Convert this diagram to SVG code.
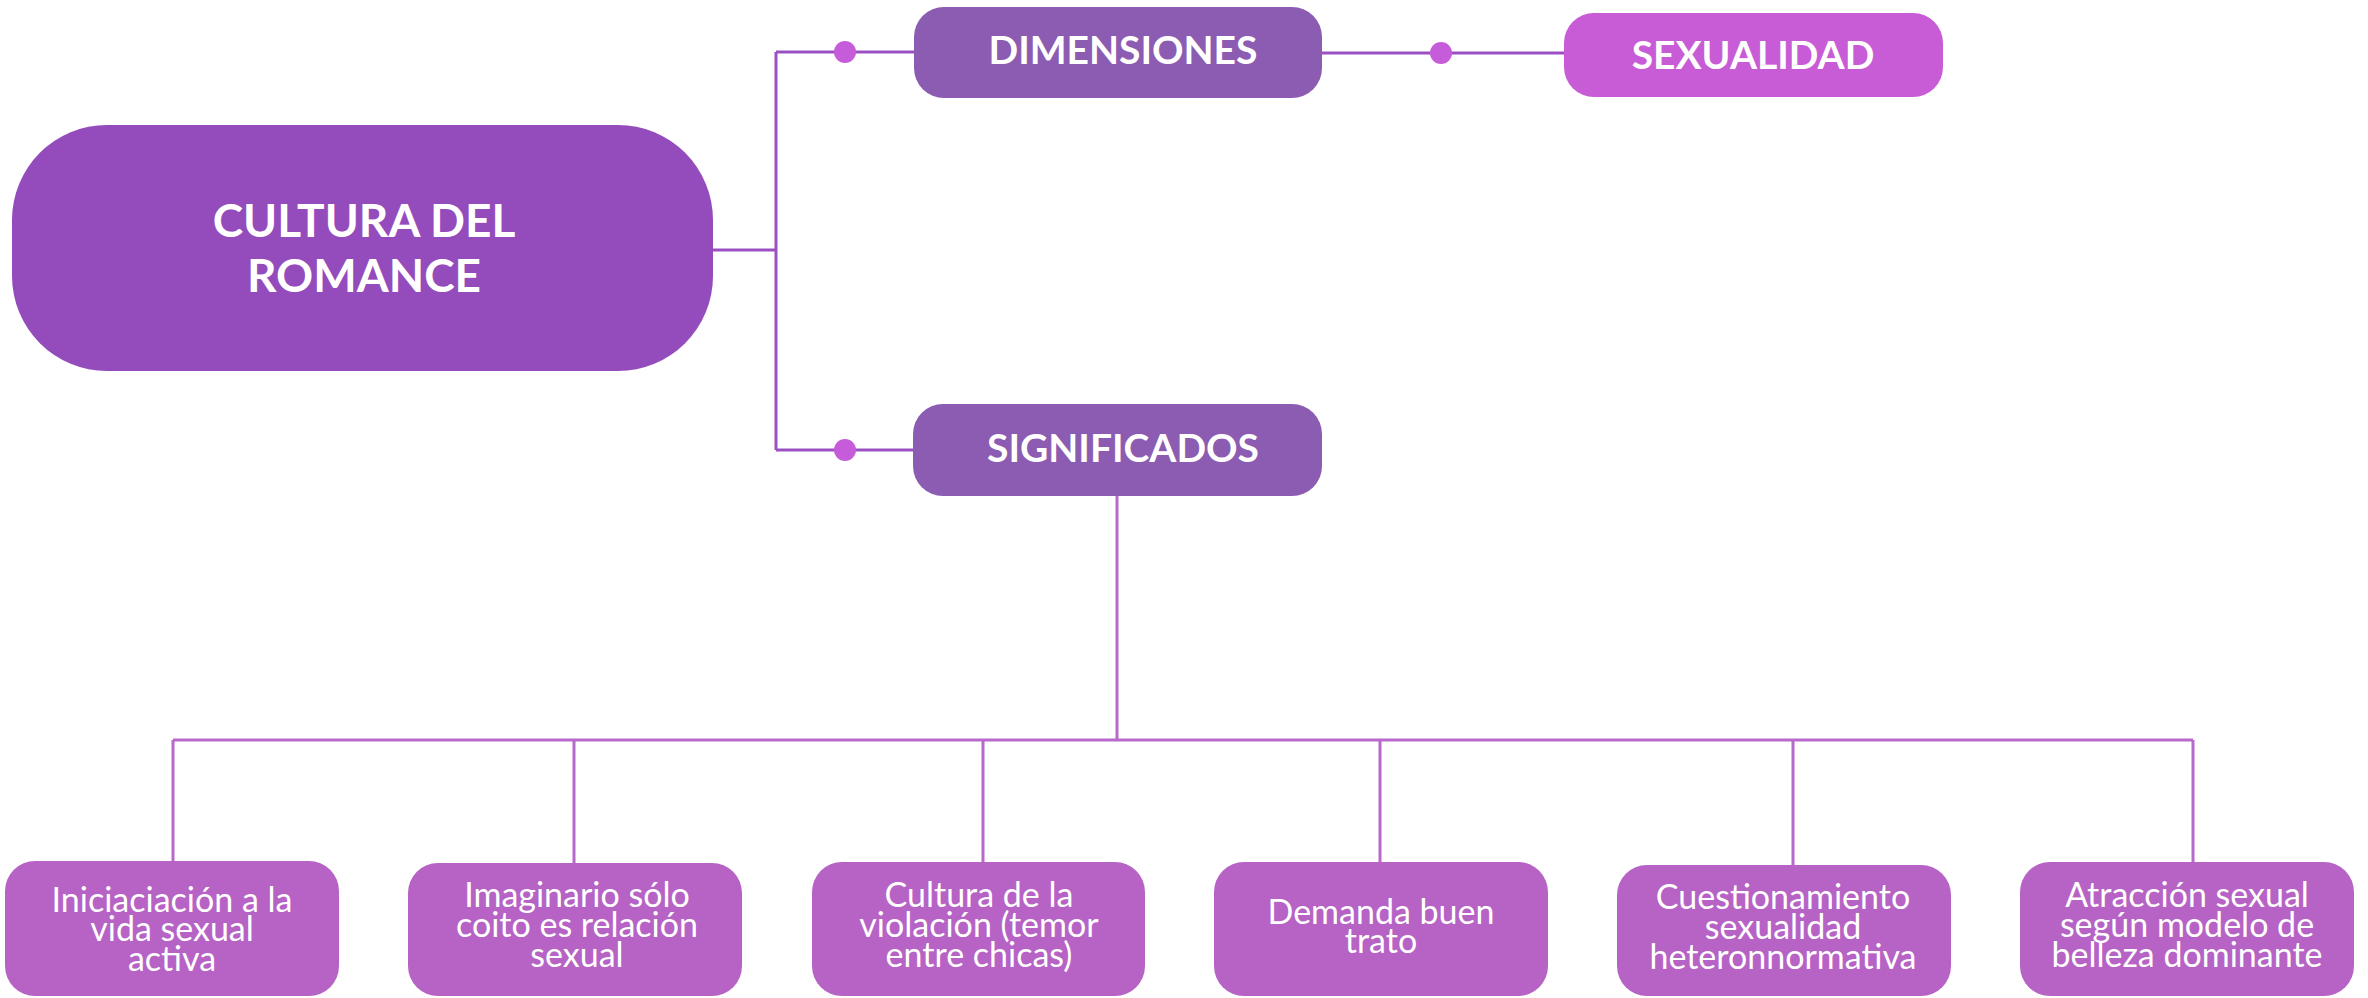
<svg xmlns="http://www.w3.org/2000/svg" width="2368" height="998" viewBox="0 0 2368 998">
<style>
.t{font-family:Lato,"Noto Sans","Liberation Sans",sans-serif;fill:#fff;text-anchor:middle}
.h{font-weight:bold;font-size:39px}
.m{font-weight:bold;font-size:46px}
.c{font-size:34px}
.l1{stroke:#9A50C2;stroke-width:3;fill:none}
.l2{stroke:#B968CC;stroke-width:3;fill:none}
.dot{fill:#C65CD9}
</style>
<rect width="2368" height="998" fill="#fff"/>
<g id="connectors">
<path class="l1" d="M713 250H776M776 52V450M776 52H914M776 450H913M1322 53H1564"/>
<circle class="dot" cx="845" cy="52" r="11"/>
<circle class="dot" cx="845" cy="450" r="11"/>
<circle class="dot" cx="1441" cy="53" r="11"/>
<path class="l2" d="M1117 496V740M173 740H2193M173 740V862M574 740V863M983 740V862M1380 740V862M1793 740V865M2193 740V862"/>
</g>
<g id="cultura">
<rect x="12" y="125" width="701" height="246" rx="95" fill="#944BBB"/>
<text class="t m" x="364" y="237">CULTURA DEL</text>
<text class="t m" x="364" y="292">ROMANCE</text>
</g>
<g id="dimensiones">
<rect x="914" y="7" width="408" height="91" rx="30" fill="#8B5CB1"/>
<text class="t h" x="1123" y="64">DIMENSIONES</text>
</g>
<g id="sexualidad">
<rect x="1564" y="13" width="379" height="84" rx="30" fill="#C85BD6"/>
<text class="t h" x="1753" y="69">SEXUALIDAD</text>
</g>
<g id="significados">
<rect x="913" y="404" width="409" height="92" rx="30" fill="#8B5CB1"/>
<text class="t h" x="1123" y="462">SIGNIFICADOS</text>
</g>
<g id="n1">
<rect x="5" y="861" width="334" height="135" rx="30" fill="#B663C5"/>
<text class="t c" x="172" y="912">Iniciaciación a la</text>
<text class="t c" x="172" y="941">vida sexual</text>
<text class="t c" x="172" y="971">activa</text>
</g>
<g id="n2">
<rect x="408" y="863" width="334" height="133" rx="30" fill="#B663C5"/>
<text class="t c" x="577" y="907">Imaginario sólo</text>
<text class="t c" x="577" y="937">coito es relación</text>
<text class="t c" x="577" y="967">sexual</text>
</g>
<g id="n3">
<rect x="812" y="862" width="333" height="134" rx="30" fill="#B663C5"/>
<text class="t c" x="979" y="907">Cultura de la</text>
<text class="t c" x="979" y="937">violación (temor</text>
<text class="t c" x="979" y="967">entre chicas)</text>
</g>
<g id="n4">
<rect x="1214" y="862" width="334" height="134" rx="30" fill="#B663C5"/>
<text class="t c" x="1381" y="924">Demanda buen</text>
<text class="t c" x="1381" y="953">trato</text>
</g>
<g id="n5">
<rect x="1617" y="865" width="334" height="131" rx="30" fill="#B663C5"/>
<text class="t c" x="1783" y="909">Cuestionamiento</text>
<text class="t c" x="1783" y="939">sexualidad</text>
<text class="t c" x="1783" y="969">heteronnormativa</text>
</g>
<g id="n6">
<rect x="2020" y="862" width="334" height="134" rx="30" fill="#B663C5"/>
<text class="t c" x="2187" y="907">Atracción sexual</text>
<text class="t c" x="2187" y="937">según modelo de</text>
<text class="t c" x="2187" y="967">belleza dominante</text>
</g>
</svg>
